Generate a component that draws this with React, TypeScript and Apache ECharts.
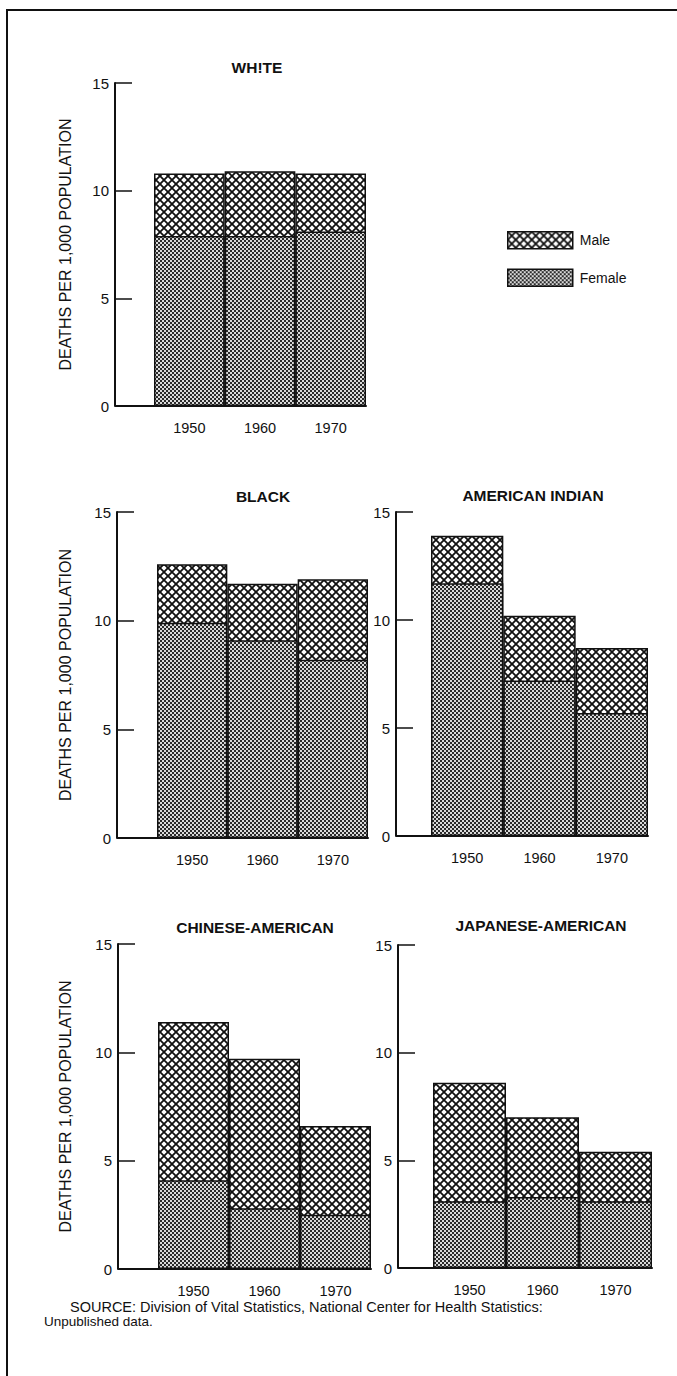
import React, { useEffect, useRef } from 'react';
import * as echarts from 'echarts';

// ---- data ----
const years = ['1950', '1960', '1970'];
const yTickStep = 5;
const yMax = 15;

const whiteMale = [10.8, 10.9, 10.8];
const whiteFemale = [7.9, 7.9, 8.1];
const blackMale = [12.6, 11.7, 11.9];
const blackFemale = [9.9, 9.1, 8.2];
const amIndMale = [13.9, 10.2, 8.7];
const amIndFemale = [11.7, 7.2, 5.7];
const chineseMale = [11.4, 9.7, 6.6];
const chineseFemale = [4.1, 2.8, 2.5];
const japaneseMale = [8.6, 7.0, 5.4];
const japaneseFemale = [3.1, 3.3, 3.1];

const panelTitles = ['WH!TE', 'BLACK', 'AMERICAN INDIAN', 'CHINESE-AMERICAN', 'JAPANESE-AMERICAN'];
const maleSeries = [whiteMale, blackMale, amIndMale, chineseMale, japaneseMale];
const femaleSeries = [whiteFemale, blackFemale, amIndFemale, chineseFemale, japaneseFemale];
const yAxisName = 'DEATHS PER 1,000 POPULATION';
const sourceLine1 = 'SOURCE: Division of Vital Statistics, National Center for Health Statistics:';
const sourceLine2 = 'Unpublished data.';

// ---- layout (pixels) ----
const layout = [
  { axisX: 115, barL: 154, barR: 366, top: 83, bottom: 406, titleX: 257, titleY: 67, showName: true },
  { axisX: 117, barL: 157, barR: 368, top: 512, bottom: 838, titleX: 263, titleY: 496, showName: true },
  { axisX: 396, barL: 431, barR: 648, top: 512, bottom: 836, titleX: 533, titleY: 495, showName: false },
  { axisX: 118, barL: 158, barR: 371, top: 944, bottom: 1269, titleX: 255, titleY: 927, showName: true },
  { axisX: 398, barL: 433, barR: 652, top: 945, bottom: 1268, titleX: 541, titleY: 925, showName: false },
];
const nameCenterX = 65;

const INK = '#111';
const FONT = '"Liberation Sans", Arial, Helvetica, sans-serif';

function crosshatch() {
  const c = document.createElement('canvas');
  c.width = 8;
  c.height = 8;
  const ctx = c.getContext('2d')!;
  ctx.fillStyle = '#ffffff';
  ctx.fillRect(0, 0, 8, 8);
  ctx.strokeStyle = '#111111';
  ctx.lineWidth = 1.8;
  ctx.beginPath();
  ctx.moveTo(-1, -1);
  ctx.lineTo(9, 9);
  ctx.moveTo(9, -1);
  ctx.lineTo(-1, 9);
  ctx.stroke();
  return c;
}

function stipple() {
  const c = document.createElement('canvas');
  c.width = 4;
  c.height = 4;
  const ctx = c.getContext('2d')!;
  ctx.fillStyle = '#dadada';
  ctx.fillRect(0, 0, 4, 4);
  ctx.fillStyle = '#2a2a2a';
  ctx.fillRect(0, 0, 2, 2);
  ctx.fillRect(2, 2, 2, 2);
  return c;
}

export default function App() {
  const ref = useRef<HTMLDivElement>(null);

  useEffect(() => {
    if (!ref.current) return;
    const chart = echarts.init(ref.current, null, { renderer: 'svg' });
    const maleFill: any = { image: crosshatch(), repeat: 'repeat', imageWidth: 8, imageHeight: 8 };
    const femaleFill: any = { image: stipple(), repeat: 'repeat', imageWidth: 4, imageHeight: 4 };

    const grids: any[] = [];
    const xAxes: any[] = [];
    const yAxes: any[] = [];
    const series: any[] = [];
    const graphics: any[] = [];

    layout.forEach((p, i) => {
      grids.push({ left: p.barL, top: p.top, width: p.barR - p.barL, height: p.bottom - p.top, containLabel: false });
      xAxes.push({
        type: 'category',
        gridIndex: i,
        data: years,
        axisLine: { show: true, lineStyle: { color: INK, width: 2 } },
        axisTick: { show: false },
        axisLabel: { color: INK, fontSize: 14.5, margin: 14, fontFamily: FONT },
        splitLine: { show: false },
      });
      yAxes.push({
        type: 'value',
        gridIndex: i,
        min: 0,
        max: yMax,
        interval: yTickStep,
        offset: p.barL - p.axisX,
        name: p.showName ? yAxisName : '',
        nameLocation: 'middle',
        nameRotate: 90,
        nameGap: p.axisX - nameCenterX - 8,
        nameTextStyle: { color: INK, fontSize: 16, fontFamily: FONT },
        axisLine: { show: true, lineStyle: { color: INK, width: 2 } },
        axisTick: { show: true, inside: true, length: 17, lineStyle: { color: INK, width: 1.5 } },
        axisLabel: { color: INK, fontSize: 15, margin: 6, fontFamily: FONT },
        splitLine: { show: false },
      });
      series.push({
        type: 'bar',
        name: 'Male',
        xAxisIndex: i,
        yAxisIndex: i,
        data: maleSeries[i],
        barWidth: '100%',
        barGap: '-100%',
        z: 2,
        itemStyle: { color: maleFill, borderColor: INK, borderWidth: 1.5 },
      });
      series.push({
        type: 'bar',
        name: 'Female',
        xAxisIndex: i,
        yAxisIndex: i,
        data: femaleSeries[i],
        barWidth: '100%',
        barGap: '-100%',
        z: 3,
        itemStyle: { color: femaleFill, borderColor: INK, borderWidth: 1.5 },
      });
      graphics.push({
        type: 'line',
        shape: { x1: p.axisX, y1: p.bottom, x2: p.barL, y2: p.bottom },
        style: { stroke: INK, lineWidth: 2 },
      });
      graphics.push({
        type: 'text',
        x: p.titleX,
        y: p.titleY,
        style: {
          text: panelTitles[i],
          fill: INK,
          font: `bold 15.5px ${FONT}`,
          textAlign: 'center',
          textVerticalAlign: 'middle',
        },
      });
    });

    // frame
    graphics.push({ type: 'line', shape: { x1: 6, y1: 10, x2: 677, y2: 10 }, style: { stroke: INK, lineWidth: 2 } });
    graphics.push({ type: 'line', shape: { x1: 7, y1: 10, x2: 7, y2: 1376 }, style: { stroke: INK, lineWidth: 2 } });
    // source
    graphics.push({
      type: 'text',
      x: 70,
      y: 1307,
      style: { text: sourceLine1, fill: INK, font: `14.5px ${FONT}`, textVerticalAlign: 'middle' },
    });
    graphics.push({
      type: 'text',
      x: 44,
      y: 1321,
      style: { text: sourceLine2, fill: INK, font: `13.5px ${FONT}`, textVerticalAlign: 'middle' },
    });

    chart.setOption({
      animation: false,
      backgroundColor: '#ffffff',
      textStyle: { fontFamily: FONT },
      grid: grids,
      xAxis: xAxes,
      yAxis: yAxes,
      series,
      legend: {
        data: ['Male', 'Female'],
        orient: 'vertical',
        left: 502,
        top: 226,
        itemWidth: 65,
        itemHeight: 17,
        itemGap: 19,
        icon: 'rect',
        selectedMode: false,
        itemStyle: { borderColor: INK, borderWidth: 1.5 },
        textStyle: { color: INK, fontSize: 14, fontFamily: FONT, padding: [0, 0, 0, 2] },
      },
      graphic: graphics,
    });
    return () => chart.dispose();
  }, []);

  return (
    <div
      ref={ref}
      style={{ position: 'absolute', left: 0, top: 0, width: 677, height: 1376, background: '#fff' }}
    />
  );
}
